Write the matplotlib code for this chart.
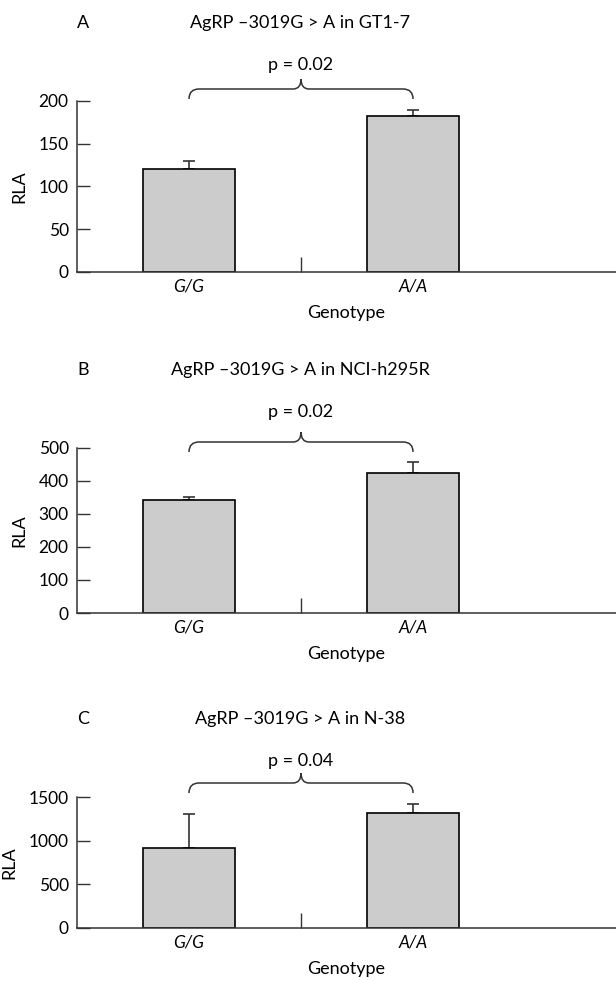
import matplotlib
matplotlib.use("Agg")
from matplotlib import pyplot as plt
from matplotlib.path import Path
from matplotlib.patches import PathPatch

plt.rcParams['font.family'] = ['Lato', 'DejaVu Sans']

# data
genotypes = ["G/G", "A/A"]
panel_letters = ["A", "B", "C"]
cell_lines = ["GT1-7", "NCI-h295R", "N-38"]
rla_means = [[121, 182], [342, 424], [916, 1317]]
rla_errors = [[9, 8], [10, 34], [390, 103]]
p_values = ["0.02", "0.02", "0.04"]
y_max = [200, 500, 1500]
y_ticks = [[0, 50, 100, 150, 200],
           [0, 100, 200, 300, 400, 500],
           [0, 500, 1000, 1500]]

W, H = 616, 981
fig = plt.figure(figsize=(W / 100, H / 100), dpi=100)

# axes boxes in pixels: (top, bottom)
boxes = [(101, 272), (448, 613), (797, 928)]
left_px = 77
brace_base = [2, -4, 4]  # brace end offset above axes top, px


def fy(py):
    return 1 - py / H


def brace_path(x0, x1, y_end):
    # curly brace in figure pixels (y down), returned in figure fraction
    xm = (x0 + x1) / 2
    y_line = y_end - 10
    y_tip = y_line - 10
    r, t = 10, 8
    verts = [(x0, y_end), (x0, y_line), (x0 + r, y_line),
             (xm - t, y_line), (xm, y_line), (xm, y_tip),
             (xm, y_tip), (xm, y_line), (xm + t, y_line),
             (x1 - r, y_line), (x1, y_line), (x1, y_end)]
    codes = [Path.MOVETO, Path.CURVE3, Path.CURVE3,
             Path.LINETO, Path.CURVE3, Path.CURVE3,
             Path.MOVETO, Path.CURVE3, Path.CURVE3,
             Path.LINETO, Path.CURVE3, Path.CURVE3]
    return Path([(vx / W, fy(vy)) for vx, vy in verts], codes)


for i in range(3):
    top, bot = boxes[i]
    ax = fig.add_axes([left_px / W, fy(bot), 1 - left_px / W, (bot - top) / H])
    ax.bar([0, 1], rla_means[i], width=0.41, color="#cccccc",
           edgecolor="black", linewidth=1.2, zorder=2)
    ax.errorbar([0, 1], rla_means[i], yerr=[[0, 0], rla_errors[i]], fmt="none",
                ecolor="#333333", elinewidth=1.2, capsize=4.5, capthick=1.2, zorder=1)
    ax.set_xlim(-0.5, 1.906)
    ax.set_ylim(0, y_max[i])
    ax.set_yticks(y_ticks[i])
    ax.set_xticks([0, 1])
    ax.set_xticklabels(genotypes, fontstyle="italic", fontsize=12.5)
    ax.set_xticks([0.5], minor=True)
    ax.tick_params(axis="x", which="major", length=0, pad=5)
    ax.tick_params(axis="x", which="minor", direction="in", length=11,
                   width=1, color="#333333")
    ax.tick_params(axis="y", direction="in", length=9, width=1,
                   color="#333333", labelsize=12.5, pad=6)
    for s in ["top", "right"]:
        ax.spines[s].set_visible(False)
    for s in ["left", "bottom"]:
        ax.spines[s].set_linewidth(1.1)
        ax.spines[s].set_color("#333333")
    ax.set_ylabel("RLA", fontsize=13, labelpad=8)
    ax.set_xlabel("Genotype", fontsize=13, labelpad=7)

    # title and panel letter
    fig.text(83 / W, fy(top - 78), panel_letters[i], fontsize=13,
             ha="center", va="center")
    fig.text(300 / W, fy(top - 78),
             "AgRP \u20133019G > A in " + cell_lines[i], fontsize=13,
             ha="center", va="center")

    # significance brace between the two bars
    x0 = ax.transData.transform((0, 0))[0]
    x1 = ax.transData.transform((1, 0))[0]
    fig.add_artist(PathPatch(brace_path(x0, x1, top - brace_base[i]),
                             facecolor="none", edgecolor="#333333",
                             linewidth=1.1, transform=fig.transFigure))
    fig.text((x0 + x1) / 2 / W, fy(top - 36), "p = " + p_values[i],
             fontsize=13, ha="center", va="center")

fig.savefig("out.png", dpi=100)
